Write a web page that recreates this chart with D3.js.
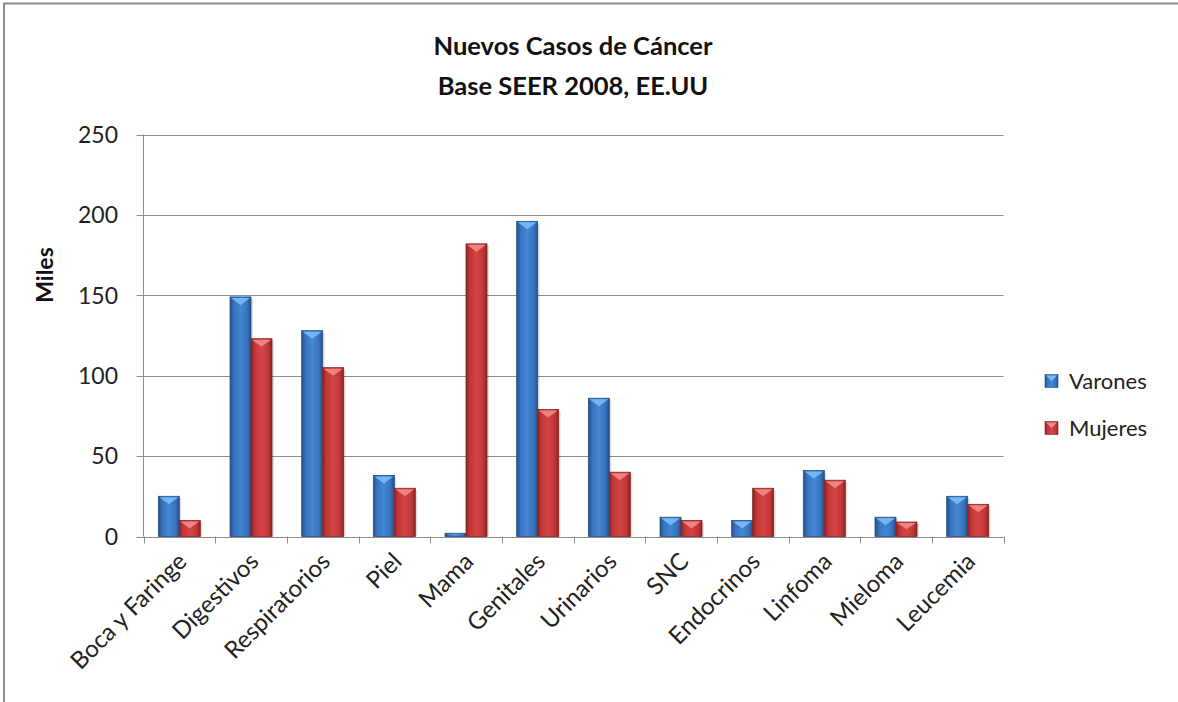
<!DOCTYPE html>
<html>
<head>
<meta charset="utf-8">
<script src="https://cdn.jsdelivr.net/npm/d3@7"></script>
<style>
  body { margin: 0; background: #fff; }
  svg { display: block; font-family: Lato, "Open Sans", sans-serif; }
</style>
</head>
<body>
<div id="chart"></div>
<script>
// datos del grafico
var categorias = ["Boca y Faringe", "Digestivos", "Respiratorios", "Piel", "Mama", "Genitales",
                  "Urinarios", "SNC", "Endocrinos", "Linfoma", "Mieloma", "Leucemia"];
var series = ["Varones", "Mujeres"];
var varones = [25, 149, 128, 38, 2, 196, 86, 12, 10, 41, 12, 25];
var mujeres = [10, 123, 105, 30, 182, 79, 40, 10, 30, 35, 9, 20];
var ticksY = [0, 50, 100, 150, 200, 250];
var titulo = ["Nuevos Casos de Cáncer", "Base SEER 2008, EE.UU"];
var tituloY = "Miles";

var width = 1178, height = 702;
// zona del grafico (no usar "top": choca con window.top)
var izq = 143.5, der = 1003.5, arriba = 134.5, abajo = 536.5;

var svg = d3.select("#chart").append("svg")
    .attr("width", width)
    .attr("height", height);

// colores: [oscuro, medio, claro, brillo superior]
var colores = {
  "Varones": ["#254f88", "#3872bd", "#4486d4", "#78bdf7"],
  "Mujeres": ["#8a2424", "#c23636", "#d44545", "#f48a8a"]
};

var defs = svg.append("defs");
series.forEach(function(s, i) {
  var c = colores[s];
  var grad = defs.append("linearGradient")
      .attr("id", "grad" + i)
      .attr("x1", "0%").attr("x2", "100%").attr("y1", "0%").attr("y2", "0%");
  grad.append("stop").attr("offset", "0%").attr("stop-color", c[0]);
  grad.append("stop").attr("offset", "18%").attr("stop-color", c[1]);
  grad.append("stop").attr("offset", "50%").attr("stop-color", c[2]);
  grad.append("stop").attr("offset", "82%").attr("stop-color", c[1]);
  grad.append("stop").attr("offset", "100%").attr("stop-color", c[0]);
});

// marco
svg.append("rect")
    .attr("x", 4).attr("y", 3.5)
    .attr("width", 1400).attr("height", 900)
    .attr("fill", "none")
    .attr("stroke", "#8c8c8c")
    .attr("stroke-width", 2);

var x0 = d3.scaleBand()
    .domain(categorias)
    .range([izq, der]);

var x1 = d3.scaleBand()
    .domain(series)
    .range([0, x0.bandwidth()])
    .paddingOuter(0.707);

var y = d3.scaleLinear()
    .domain([0, 250])
    .range([abajo, arriba]);

// lineas de division
svg.append("g")
  .selectAll("line")
  .data(ticksY)
  .enter().append("line")
    .attr("x1", izq - 7)
    .attr("x2", der)
    .attr("y1", function(d) { return Math.round(y(d)) + 0.5; })
    .attr("y2", function(d) { return Math.round(y(d)) + 0.5; })
    .attr("stroke", "#8c8c8c")
    .attr("stroke-width", 1);

// eje Y
svg.append("line")
    .attr("x1", izq).attr("x2", izq)
    .attr("y1", arriba).attr("y2", abajo)
    .attr("stroke", "#8c8c8c");

svg.append("g")
  .selectAll("text")
  .data(ticksY)
  .enter().append("text")
    .attr("x", 118)
    .attr("y", function(d) { return y(d); })
    .attr("dy", "0.36em")
    .attr("text-anchor", "end")
    .attr("font-size", "23px")
    .attr("fill", "#222")
    .text(function(d) { return d; });

// marcas del eje X
svg.append("g")
  .selectAll("line")
  .data(categorias.concat(["__fin"]))
  .enter().append("line")
    .attr("x1", function(d, i) { return Math.round(izq + i * x0.step()) + 0.5; })
    .attr("x2", function(d, i) { return Math.round(izq + i * x0.step()) + 0.5; })
    .attr("y1", abajo)
    .attr("y2", abajo + 7)
    .attr("stroke", "#8c8c8c");

// barras
var filas = categorias.map(function(c, i) {
  return { cat: c, valores: [varones[i], mujeres[i]] };
});

var grupo = svg.append("g")
  .selectAll("g")
  .data(filas)
  .enter().append("g")
    .attr("transform", function(d) { return "translate(" + x0(d.cat) + ",0)"; });

var barra = grupo.selectAll("g")
  .data(function(d) {
    return series.map(function(s, i) { return { serie: s, idx: i, valor: d.valores[i] }; });
  })
  .enter().append("g");

// sombra suave
barra.append("rect")
    .attr("x", function(d) { return x1(d.serie) + 2; })
    .attr("y", function(d) { return y(d.valor) + 2; })
    .attr("width", x1.bandwidth())
    .attr("height", function(d) { return Math.max(0, abajo - y(d.valor) - 2); })
    .attr("fill", "#000")
    .attr("opacity", 0.12);

barra.append("rect")
    .attr("x", function(d) { return x1(d.serie); })
    .attr("y", function(d) { return y(d.valor); })
    .attr("width", x1.bandwidth())
    .attr("height", function(d) { return abajo - y(d.valor); })
    .attr("fill", function(d) { return "url(#grad" + d.idx + ")"; })
    .attr("stroke", function(d) { return colores[d.serie][0]; })
    .attr("stroke-width", 0.8);

barra.append("path")
    .attr("d", function(d) {
      var bx = x1(d.serie), w = x1.bandwidth(), by = y(d.valor);
      var h = Math.min(8, (abajo - by) / 2);
      return "M" + (bx + 1) + "," + (by + 1) + "L" + (bx + w - 1) + "," + (by + 1) +
             "L" + (bx + w / 2) + "," + (by + h) + "Z";
    })
    .attr("fill", function(d) { return colores[d.serie][3]; })
    .attr("opacity", 0.9);

// etiquetas X
svg.append("g")
  .selectAll("text")
  .data(categorias)
  .enter().append("text")
    .attr("transform", function(d) {
      return "translate(" + (x0(d) + x0.bandwidth() / 2 + 9) + "," + 563 + ")rotate(-45)";
    })
    .attr("text-anchor", "end")
    .attr("font-size", "24px")
    .attr("fill", "#222")
    .text(function(d) { return d; });

// titulo
svg.append("g")
  .selectAll("text")
  .data(titulo)
  .enter().append("text")
    .attr("x", 573)
    .attr("y", function(d, i) { return 46 + i * 40; })
    .attr("dy", "0.35em")
    .attr("text-anchor", "middle")
    .attr("font-size", "25.5px")
    .attr("font-weight", "bold")
    .attr("fill", "#111")
    .text(function(d) { return d; });

svg.append("text")
    .attr("transform", "translate(45," + 275 + ")rotate(-90)")
    .attr("dy", "0.35em")
    .attr("text-anchor", "middle")
    .attr("font-size", "23px")
    .attr("font-weight", "bold")
    .attr("fill", "#111")
    .text(tituloY);

// leyenda
var leyenda = svg.append("g")
  .selectAll("g")
  .data(series)
  .enter().append("g")
    .attr("transform", function(d, i) { return "translate(1045," + (381 + i * 47) + ")"; });

leyenda.append("rect")
    .attr("x", 0).attr("y", -6.5)
    .attr("width", 13).attr("height", 13)
    .attr("fill", function(d, i) { return "url(#grad" + i + ")"; })
    .attr("stroke", function(d) { return colores[d][0]; })
    .attr("stroke-width", 0.6);

leyenda.append("path")
    .attr("d", "M1,-5.5L12,-5.5L6.5,0Z")
    .attr("fill", function(d) { return colores[d][3]; });

leyenda.append("text")
    .attr("x", 24)
    .attr("dy", "0.36em")
    .attr("font-size", "22px")
    .attr("fill", "#222")
    .text(function(d) { return d; });
</script>
</body>
</html>
